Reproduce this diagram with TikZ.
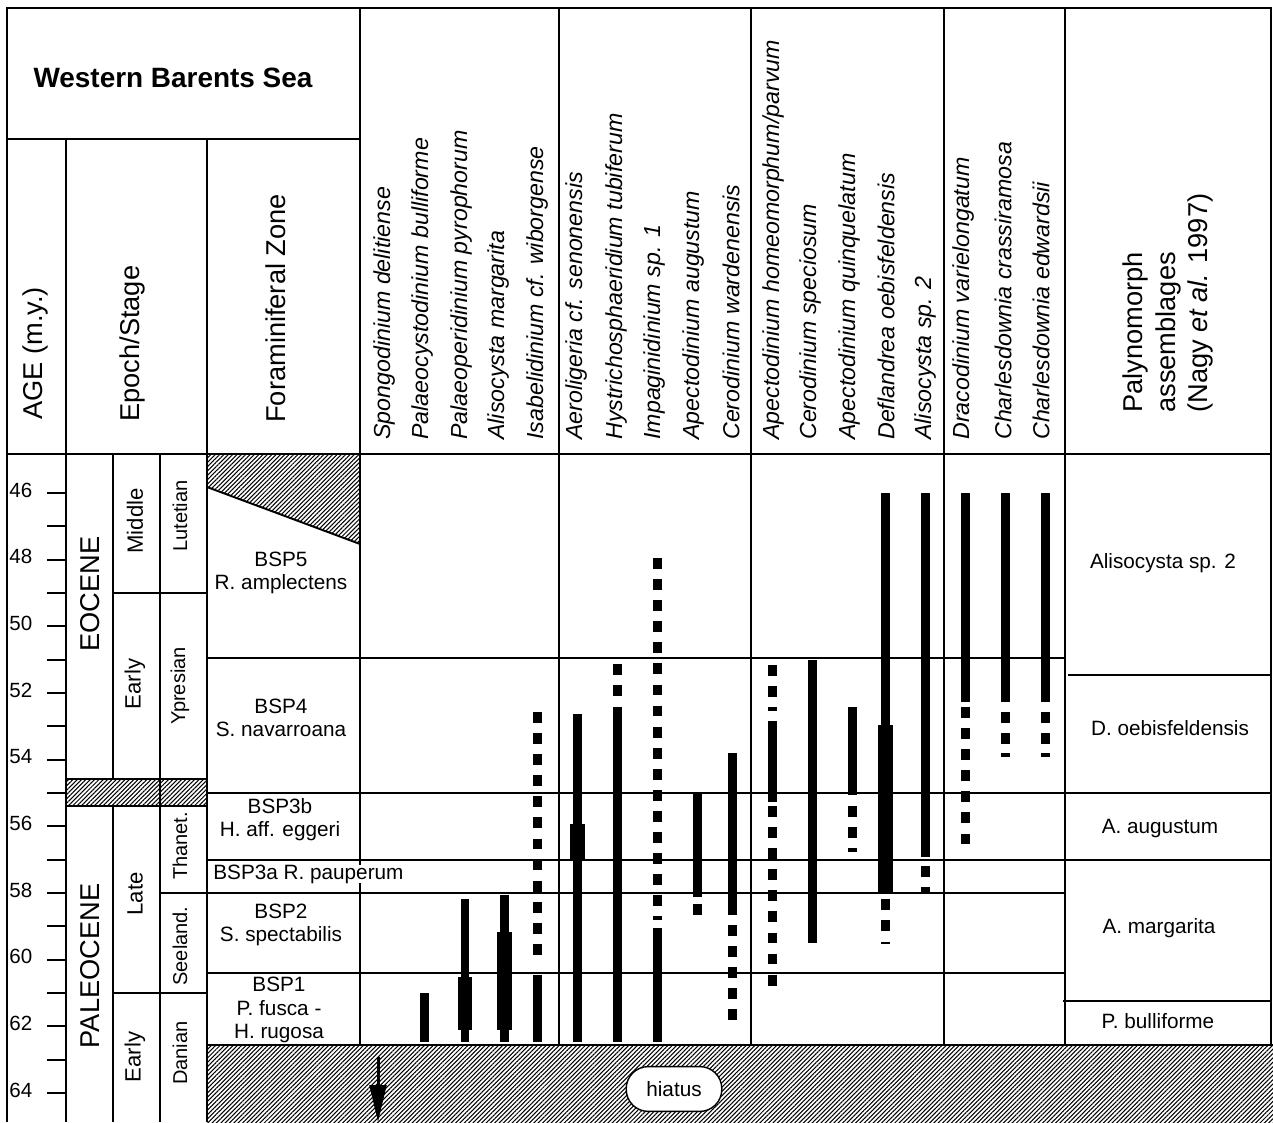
\documentclass[tikz,border=0pt]{standalone}
\usepackage{fontspec}
\setmainfont{Liberation Sans}
\usetikzlibrary{patterns.meta,arrows.meta}
\newcommand\solidseg[3]{\draw[barline] (#1,#2) -- (#1,#3);}
\newcommand\wideseg[3]{\draw[widebar] (#1,#2) -- (#1,#3);}
\newcommand\dashseg[3]{\draw[dashbar] (#1,#2) -- (#1,#3);}
\begin{document}
\begin{tikzpicture}[x=0.02cm,y=-0.02cm,
  frame/.style={line width=1.5pt},
  rule/.style={line width=1.1pt},
  fine/.style={line width=0.7pt},
  hatch/.style={pattern={Lines[angle=45,distance=1.75pt,line width=0.6pt]}},
  barline/.style={line width=5.1pt},
  widebar/.style={line width=8.5pt},
  dashbar/.style={line width=5.1pt, dash pattern=on 6.2pt off 5.8pt},
  lab/.style={font=\fontsize{11.8}{13.2}\selectfont, align=center, inner sep=0pt},
  big/.style={font=\fontsize{15.5}{18.7}\selectfont, rotate=90, anchor=west, inner sep=0pt},
  epo/.style={font=\fontsize{15.5}{18.7}\selectfont, rotate=90, inner sep=0pt},
  sub/.style={font=\fontsize{12.6}{14}\selectfont, rotate=90, inner sep=0pt},
  stg/.style={font=\fontsize{11.4}{13}\selectfont, rotate=90, inner sep=0pt},
  spec/.style={font=\fontsize{13.2}{15}\selectfont\itshape, rotate=90, anchor=west, inner sep=0pt},
  num/.style={font=\fontsize{11.7}{13}\selectfont, anchor=west, inner sep=0pt}
]
\useasboundingbox (0,0) rectangle (1273,1122);
% hatched areas
\path[hatch] (207,454) -- (360,454) -- (360,544) -- (207,487) -- cycle;
\path[hatch] (66,779) rectangle (207,806);
\path[hatch] (207,1045) rectangle (1273,1122);
% frame and header
\draw[frame] (7,1122) -- (7,8) -- (1271,8) -- (1271,1045);
\draw[rule] (7,139) -- (360,139);
\draw[rule] (7,454) -- (1271,454);
% verticals
\draw[rule] (66,139) -- (66,1122);
\draw[rule] (207,139) -- (207,1122);
\draw[rule] (360,8) -- (360,1045);
\draw[fine] (559,8) -- (559,1045);
\draw[fine] (751,8) -- (751,1045);
\draw[fine] (944,8) -- (944,1045);
\draw[rule] (1065,8) -- (1065,1045);
% epoch / stage divisions
\draw[rule] (113,454) -- (113,779);
\draw[rule] (113,806) -- (113,1122);
\draw[rule] (160,454) -- (160,1122);
\draw[rule] (113,593) -- (207,593);
\draw[rule] (66,779) -- (207,779);
\draw[rule] (66,806) -- (207,806);
\draw[rule] (113,993) -- (207,993);
% zone lines
\draw[rule] (207,487) -- (360,544);
\draw[rule] (207,658) -- (1065,658);
\draw[rule] (207,793) -- (1271,793);
\draw[rule] (207,860) -- (1271,860);
\draw[rule] (160,893) -- (1065,893);
\draw[rule] (207,973) -- (1065,973);
\draw[rule] (1068,675) -- (1271,675);
\draw[rule] (1063,1001) -- (1271,1001);
\draw[rule] (207,1045) -- (1273,1045);
% age ticks and numbers
\foreach \a in {46,...,64} \draw[rule] (47,{493+(\a-46)*33.33}) -- (66,{493+(\a-46)*33.33});
\foreach \a in {46,48,...,64} \node[num] (age\a) at (9,{490+(\a-46)*33.33}) {\a};
% headers
\node[font=\fontsize{15.9}{18}\selectfont\bfseries, inner sep=0pt] (title) at (173,78) {Western Barents Sea};
\node[big] (hage) at (35,420) {AGE (m.y.)};
\node[big] (hepoch) at (132,422) {Epoch/Stage};
\node[big] (hforam) at (276,423) {Foraminiferal Zone};
\node[big, align=left] (hpal) at (1168,413) {Palynomorph\\assemblages\\(Nagy \textit{et al.} 1997)};
\foreach \x/\t [count=\i] in {384/{Spongodinium delitiense},422/{Palaeocystodinium bulliforme},461/{Palaeoperidinium pyrophorum},498/{Alisocysta margarita},537/{Isabelidinium cf. wiborgense},576/{Aeroligeria cf. senonensis},616/{Hystrichosphaeridium tubiferum},654/{Impaginidinium sp. 1},693/{Apectodinium augustum},731/{Cerodinium wardenensis},773/{Apectodinium homeomorphum/parvum},810/{Cerodinium speciosum},849/{Apectodinium quinquelatum},886/{Deflandrea oebisfeldensis},925/{Alisocysta sp. 2},963/{Dracodinium varielongatum},1003/{Charlesdownia crassiramosa},1041/{Charlesdownia edwardsii}}
  \node[spec] (sp\i) at (\x,440) {\t};
% epochs and stages
\node[epo] (eoc) at (90,594) {EOCENE};
\node[epo] (pal) at (90,966) {PALEOCENE};
\node[sub] (mid) at (135,521) {Middle};
\node[sub] (eeo) at (135,684) {Early};
\node[sub] (late) at (135,894) {Late};
\node[sub] (epa) at (135,1057) {Early};
\node[stg] (lut) at (180,516) {Lutetian};
\node[stg] (ypr) at (180,686) {Ypresian};
\node[stg] (tha) at (180,846) {Thanet.};
\node[stg] (see) at (180,946) {Seeland.};
\node[stg] (dan) at (180,1053) {Danian};
% foraminiferal zones
\node[lab] (z5) at (281,573) {BSP5\\R. amplectens};
\node[lab] (z4) at (281,718) {BSP4\\S. navarroana};
\node[lab] (z3b) at (280,820) {BSP3b\\H. aff. eggeri};
\node[lab, anchor=west, fill=white] (z3a) at (213,874) {BSP3a R. pauperum};
\node[lab] (z2) at (281,925) {BSP2\\S. spectabilis};
\node[lab] (z1) at (279,1010) {BSP1\\P. fusca -\\H. rugosa};
% palynomorph assemblages
\node[lab] (p1) at (1163,563) {Alisocysta sp. 2};
\node[lab] (p2) at (1170,728) {D. oebisfeldensis};
\node[lab] (p3) at (1160,829) {A. augustum};
\node[lab] (p4) at (1159,928) {A. margarita};
\node[lab] (p5) at (1158,1021) {P. bulliforme};
% range bars
\solidseg{424.5}{993}{1042}
\solidseg{465}{899}{1042} \wideseg{465}{977}{1030}
\solidseg{504.5}{895}{1042} \wideseg{504.5}{932}{1030}
\dashseg{537.5}{712}{957} \solidseg{537.5}{975}{1042}
\solidseg{577.5}{714}{1042} \wideseg{577.5}{824}{859}
\dashseg{617.5}{664}{698} \solidseg{617.5}{707}{1042}
\dashseg{657.5}{558}{909} \solidseg{657.5}{916}{920} \solidseg{657.5}{928}{1042}
\solidseg{697.5}{794}{897} \solidseg{697.5}{904}{915}
\solidseg{732.5}{753}{915} \dashseg{732.5}{925}{1021}
\dashseg{772.5}{665}{698} \solidseg{772.5}{707}{711} \solidseg{772.5}{721}{802} \dashseg{772.5}{806}{987}
\solidseg{812.5}{660}{943}
\solidseg{852.5}{707}{795} \dashseg{852.5}{806}{838} \solidseg{852.5}{848}{852}
\solidseg{885.5}{493}{725} \wideseg{885.5}{725}{892} \dashseg{885.5}{899}{932} \solidseg{885.5}{942}{944}
\solidseg{925.5}{493}{857} \solidseg{925.5}{866}{877} \solidseg{925.5}{887}{894}
\solidseg{965.5}{493}{702} \dashseg{965.5}{707}{845}
\solidseg{1005.5}{493}{702} \solidseg{1005.5}{712}{723} \solidseg{1005.5}{733}{744} \solidseg{1005.5}{753}{757}
\solidseg{1045.5}{493}{702} \solidseg{1045.5}{712}{723} \solidseg{1045.5}{733}{744} \solidseg{1045.5}{753}{757}
% hiatus
\node[draw, line width=0.8pt, fill=white, rounded corners=12.5pt, minimum width=54.4pt, minimum height=25.5pt, inner sep=0pt, font=\fontsize{11.8}{13}\selectfont] (hiatus) at (674,1089) {hiatus};
\coordinate (arrS) at (378,1057);
\coordinate (arrE) at (378,1122);
\draw[line width=1.7pt, -{Triangle[length=21pt,width=9.5pt]}] (arrS) -- (arrE);
\end{tikzpicture}
\end{document}
